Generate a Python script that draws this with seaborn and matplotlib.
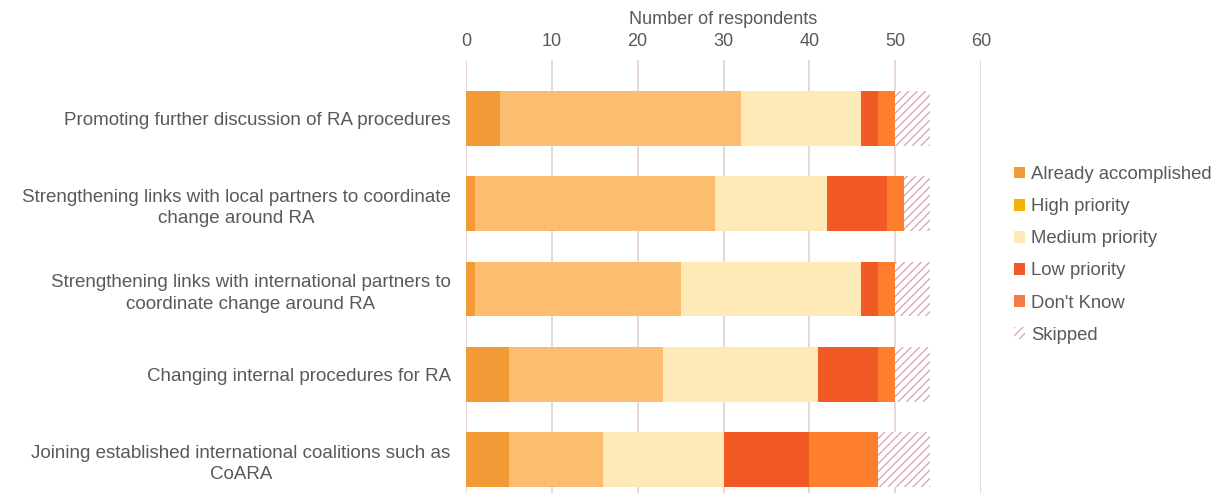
import numpy as np
import matplotlib
matplotlib.use("Agg")
import matplotlib.pyplot as plt
from matplotlib.patches import Patch
import seaborn as sns
import pandas as pd

# data
items = ['Promoting further discussion of RA procedures',
         'Strengthening links with local partners to coordinate\nchange around RA',
         'Strengthening links with international partners to\ncoordinate change around RA',
         'Changing internal procedures for RA',
         'Joining established international coalitions such as\nCoARA']
series = ['Already accomplished', 'High priority', 'Medium priority',
          'Low priority', "Don't Know", 'Skipped']
already = [4, 1, 1, 5, 5]
high = [28, 28, 24, 18, 11]
medium = [14, 13, 21, 18, 14]
low = [2, 7, 2, 7, 10]
dont_know = [2, 2, 2, 2, 8]
skipped = [4, 3, 4, 4, 6]

bar_colors = ['#f29a35', '#fbbd70', '#feeab6', '#f15a24', '#fd7f2e', 'white']
legend_colors = ['#f29a35', '#f2b400', '#feeab6', '#f15a24', '#f47c44', 'white']

sns.set_style("white")
plt.rcParams['font.family'] = ['Liberation Sans', 'DejaVu Sans']
plt.rcParams['hatch.color'] = '#d9a3ab'
plt.rcParams['hatch.linewidth'] = 0.9
grey = '#595959'

df = pd.DataFrame({'item': items, 'Already accomplished': already,
                   'High priority': high, 'Medium priority': medium,
                   'Low priority': low, "Don't Know": dont_know,
                   'Skipped': skipped})
cum = df[series].cumsum(axis=1)

fig = plt.figure(figsize=(12.24, 4.93), dpi=100)
ax = fig.add_axes([0.3807, 0.0, 0.4208, 0.878])

# stacked bars: draw the running totals from the widest down
for i in range(len(series) - 1, -1, -1):
    s = series[i]
    sns.barplot(x=cum[s], y=df['item'], orient='h', color=bar_colors[i],
                saturation=1, width=0.64, ax=ax, linewidth=0)

# first drawn set is the skipped totals -> hatch them
for p in ax.patches[:len(items)]:
    p.set_hatch('////')
    p.set_edgecolor('#d9a3ab')
    p.set_linewidth(0)

ax.set_xlim(0, 60)
ax.set_ylim(4.39, -0.68)
ax.set_xticks(np.arange(0, 61, 10))
ax.xaxis.tick_top()
ax.xaxis.set_label_position('top')
ax.set_xlabel('Number of respondents', fontsize=13, color=grey, labelpad=7)
ax.set_ylabel('')
ax.tick_params(axis='x', length=0, labelsize=13, labelcolor=grey, pad=7)
ax.tick_params(axis='y', length=0, labelsize=13.5, labelcolor=grey, pad=11)
for t in ax.get_yticklabels():
    t.set_multialignment('center')
    t.set_linespacing(1.35)
ax.grid(axis='x', color='#e6cfd5', linewidth=1.2)
ax.set_axisbelow(True)
for sp in ax.spines.values():
    sp.set_visible(False)

handles = [Patch(facecolor=legend_colors[i], edgecolor='#d9a3ab' if i == 5 else 'none',
                 hatch='////' if i == 5 else None, linewidth=0)
           for i in range(len(series))]
leg = fig.legend(handles, series, loc='center left', bbox_to_anchor=(0.815, 0.483),
                 frameon=False, fontsize=13.3, handlelength=0.6, handleheight=0.6,
                 handletextpad=0.3, labelspacing=0.82)
for t in leg.get_texts():
    t.set_color(grey)

fig.savefig('out.png', dpi=100)
